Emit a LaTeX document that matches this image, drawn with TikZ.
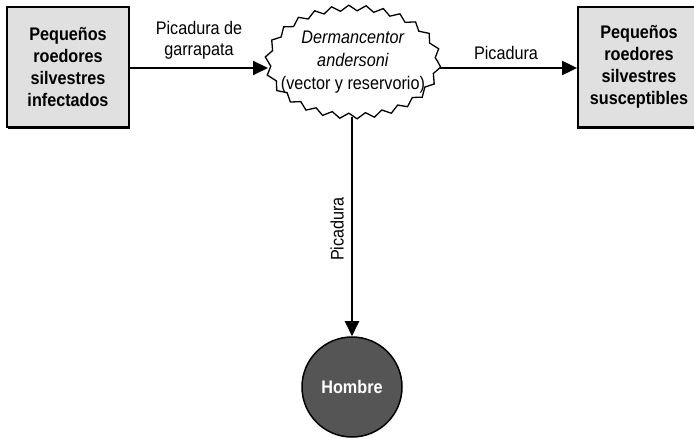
\documentclass[tikz,border=0pt]{standalone}
\usepackage{fontspec}
\setmainfont{Liberation Sans}[FakeStretch=0.89]
\usetikzlibrary{arrows.meta,decorations.pathmorphing,shapes.geometric}
\definecolor{boxgray}{HTML}{E0E0E0}
\definecolor{mangray}{HTML}{555555}
\tikzset{
  hostbox/.style={draw=black, line width=1.8pt, fill=boxgray, minimum width=122pt,
    minimum height=120pt, align=center, font=\fontsize{18.2}{22}\selectfont\bfseries},
  vectornode/.style={ellipse, minimum width=172pt, minimum height=110pt, align=center,
    font=\fontsize{18.2}{23}\selectfont},
  humannode/.style={circle, draw=black, line width=1.5pt, fill=mangray, minimum size=100pt,
    text=white, font=\fontsize{18.2}{20}\selectfont\bfseries},
  flow/.style={line width=2pt, -{Triangle[length=15pt,width=14pt]}},
  flowlabel/.style={font=\fontsize{18.2}{21}\selectfont, align=center},
}
\begin{document}
\begin{tikzpicture}[x=1pt,y=-1pt]
\useasboundingbox (0,0) rectangle (694,446);
\clip (0,0) rectangle (694,446);
% host boxes with a slight drop shadow
\fill[black] (8,9) rectangle (130,129);
\node[hostbox] (inf) at (68,67) {Pequeños\\roedores\\silvestres\\infectados};
\fill[black] (577,9) rectangle (699,129);
\node[hostbox] (sus) at (639,67) {Pequeños\\roedores\\silvestres\\susceptibles};
% tick: vector and reservoir
\node[vectornode] (tick) at (353,62) {\textit{Dermancentor}\\\textit{andersoni}\\(vector y reservorio)};
\draw[line width=1.3pt, decorate, decoration={zigzag, segment length=17pt, amplitude=2.8pt}]
  (353,62) ellipse [x radius=85pt, y radius=54pt];
% human
\node[humannode] (man) at (352,387) {Hombre};
% transmission routes
\coordinate (tickL) at (268,68);
\coordinate (tickR) at (440,68);
\coordinate (tickB) at (352,117);
\draw[flow] (inf.east |- tickL) -- (tickL);
\draw[flow] (tickR) -- (sus.west |- tickR);
\draw[flow] (tickB) -- (man.north);
\node[flowlabel] (l1) at (199,40) {Picadura de\\garrapata};
\node[flowlabel] (l2) at (506,53) {Picadura};
\node[flowlabel, rotate=90] (l3) at (337,229) {Picadura};
\end{tikzpicture}
\end{document}
